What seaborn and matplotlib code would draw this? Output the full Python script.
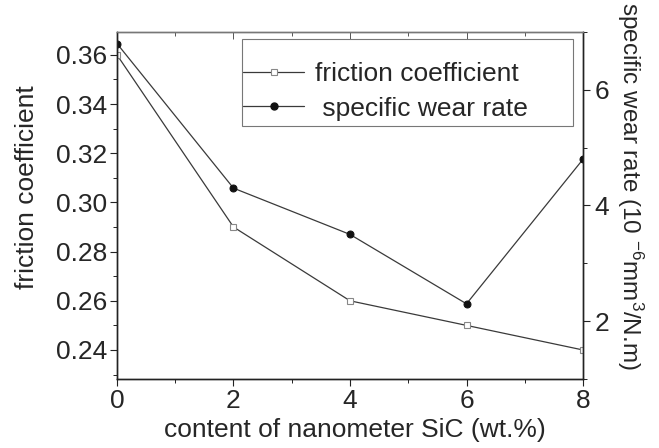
import matplotlib
matplotlib.use("Agg")
import matplotlib.pyplot as plt
from matplotlib.ticker import MultipleLocator
from matplotlib.lines import Line2D
from matplotlib.patches import Rectangle
import seaborn as sns
import pandas as pd

sic_content = [0, 2, 4, 6, 8]
friction = [0.36, 0.29, 0.26, 0.25, 0.24]
wear_rate = [6.8, 4.3, 3.5, 2.3, 4.8]
x_ticks = [0, 2, 4, 6, 8]
left_ticks = [0.24, 0.26, 0.28, 0.30, 0.32, 0.34, 0.36]
right_ticks = [2, 4, 6]

sns.set_theme(style="ticks")
plt.rcParams["font.family"] = ["Liberation Sans", "DejaVu Sans"]
plt.rcParams["mathtext.fontset"] = "custom"
plt.rcParams["mathtext.rm"] = "Liberation Sans"
plt.rcParams["mathtext.it"] = "Liberation Sans"
plt.rcParams["mathtext.default"] = "rm"

df = pd.DataFrame({"x": sic_content, "f": friction, "w": wear_rate})

fig = plt.figure(figsize=(6.59, 4.48), dpi=100)
ax = fig.add_axes([0.1775, 0.154, 0.7072, 0.7746])
ax2 = ax.twinx()

lc = "#3a3a3a"
sq_kw = dict(marker="s", markersize=4.5, markerfacecolor="white",
             markeredgecolor="#888888", markeredgewidth=0.8)
ci_kw = dict(marker="o", markersize=5, markerfacecolor="#111111",
             markeredgecolor="#111111")
sns.lineplot(data=df, x="x", y="f", ax=ax, color=lc, linewidth=0.9, **sq_kw)
sns.lineplot(data=df, x="x", y="w", ax=ax2, color=lc, linewidth=0.9, **ci_kw)

ax.set_xlim(0, 8)
ax.set_ylim(0.2282, 0.3693)
ax2.set_ylim(1.0, 7.0)

ax.set_xticks(x_ticks)
ax.xaxis.set_minor_locator(MultipleLocator(1))
ax.set_yticks(left_ticks)
ax.set_yticklabels([f"{v:.2f}" for v in left_ticks])
ax.yaxis.set_minor_locator(MultipleLocator(0.01))
ax2.set_yticks(right_ticks)
ax2.yaxis.set_minor_locator(MultipleLocator(1))

fs = 19
ax.tick_params(axis="both", which="major", labelsize=fs, direction="out",
               length=5, width=0.8, color="#222222", pad=2)
ax.tick_params(axis="both", which="minor", direction="out", length=3,
               width=0.7, color="#222222")
ax2.tick_params(axis="y", which="major", labelsize=fs, direction="out",
                length=5, width=0.8, color="#222222", pad=3)
ax2.tick_params(axis="y", which="minor", direction="out", length=3,
                width=0.7, color="#222222")

top = ax.secondary_xaxis("top")
top.set_xticks(x_ticks)
top.xaxis.set_minor_locator(MultipleLocator(1))
top.tick_params(which="major", direction="in", length=5, width=0.7,
                labeltop=False, color="#555555")
top.tick_params(which="minor", direction="in", length=3, width=0.7,
                color="#555555")

for a in (ax, ax2):
    for s in a.spines.values():
        s.set_color("#222222")
        s.set_linewidth(1.0)
    a.spines["top"].set_color("#777777")
top.spines["top"].set_visible(False)

ax.set_xlabel("content of nanometer SiC (wt.%)", fontsize=fs)
ax.xaxis.set_label_coords(0.511, -0.112)
ax.set_ylabel("friction coefficient", fontsize=fs)
ax.yaxis.set_label_coords(-0.167, 0.553)
ax2.set_ylabel(r"specific wear rate (10 $^{-6}$mm$^{3}$/N.m)", fontsize=17.5,
               rotation=270)
ax2.yaxis.set_label_coords(1.133, 0.556)

ax.add_patch(Rectangle((0.268, 0.729), 0.7105, 0.251, transform=ax.transAxes,
                       fill=False, edgecolor="#777777", linewidth=0.8,
                       zorder=5))
handles = [
    Line2D([], [], color=lc, linewidth=0.9, **sq_kw),
    Line2D([], [], color=lc, linewidth=0.9, **ci_kw),
]
leg = ax.legend(handles, ["friction coefficient", " specific wear rate"],
                loc="upper left", bbox_to_anchor=(0.271, 0.913), fontsize=fs,
                frameon=False, handlelength=2.3, handletextpad=0.4,
                borderpad=0, labelspacing=0.4, borderaxespad=0)

fig.savefig("out.png", dpi=100)
